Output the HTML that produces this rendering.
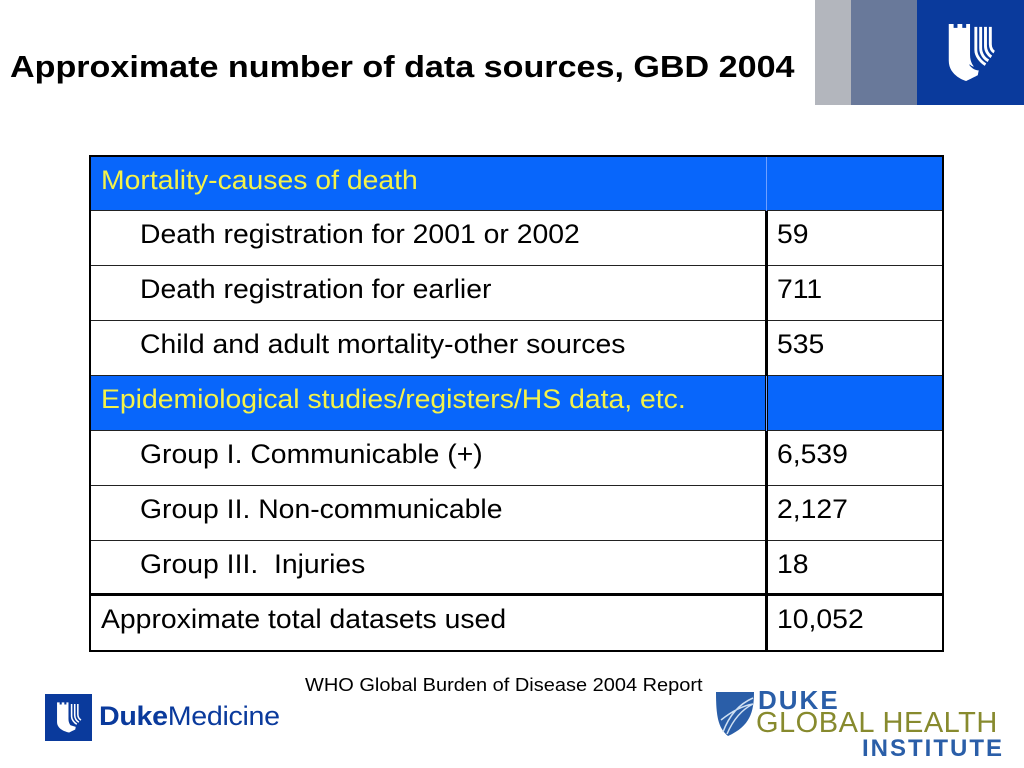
<!DOCTYPE html>
<html><head><meta charset="utf-8"><style>
body{margin:0;width:1024px;height:768px;background:#fff;position:relative;overflow:hidden;font-family:"Liberation Sans",Arial,sans-serif}
.a{position:absolute}
.row{position:absolute;left:91px;width:851px;height:55px;border-bottom:1px solid #222;box-sizing:border-box}
.row span{position:absolute;top:-4px;line-height:54px;font-size:26.5px;color:#000;white-space:nowrap;transform:scaleX(1.07);transform-origin:0 0}
.blue{background:#0866fb}
.blue span{color:#f4f24a}
</style></head><body>
<div class="a" style="left:10px;top:49px;font-size:31px;font-weight:bold;color:#000;white-space:nowrap;transform:scaleX(1.1);transform-origin:0 0">Approximate number of data sources, GBD 2004</div>
<div class="a" style="left:815px;top:0;width:36px;height:105px;background:#b3b6bd"></div>
<div class="a" style="left:851px;top:0;width:66px;height:105px;background:#69799a"></div>
<div class="a" style="left:917px;top:0;width:107px;height:105px;background:#0a3a9c"></div>
<svg class="a" style="left:946px;top:24px" width="50" height="58" viewBox="0 0 50 60"><path d="M2 0h5v4h4v-4h5v4h4v-4h4v32c0 8 4 12 4 12s-2 0-4-2l-1 0 0 0c0 0 4 6 10 6l-1 5c-6 3-12 6-12 6S2 54 2 38Z" fill="#fff"/><path d="M30 3v24c0 6 5 12 10 15M35 3v22c0 6 4 11 8 13M40 3v20c0 5 3 9 6 11M45 3v18c0 4 2 7 4 8" stroke="#fff" stroke-width="3" fill="none"/></svg>

<div class="a" style="left:89px;top:155px;width:855px;height:497px;border:2px solid #000;box-sizing:border-box"></div>
<div class="row blue" style="top:157px;height:54px"><span style="left:10px">Mortality-causes of death</span></div>
<div class="row" style="top:211px"><span style="left:49px">Death registration for 2001 or 2002</span><span style="left:686px">59</span></div>
<div class="row" style="top:266px"><span style="left:49px">Death registration for earlier</span><span style="left:686px">711</span></div>
<div class="row" style="top:321px"><span style="left:49px">Child and adult mortality-other sources</span><span style="left:686px">535</span></div>
<div class="row blue" style="top:376px"><span style="left:10px">Epidemiological studies/registers/HS data, etc.</span></div>
<div class="row" style="top:431px"><span style="left:49px">Group I. Communicable (+)</span><span style="left:686px">6,539</span></div>
<div class="row" style="top:486px"><span style="left:49px">Group II. Non-communicable</span><span style="left:686px">2,127</span></div>
<div class="row" style="top:541px;border-bottom:3px solid #000"><span style="left:49px">Group III.&nbsp; Injuries</span><span style="left:686px">18</span></div>
<div class="row" style="top:596px;border:none"><span style="left:10px">Approximate total datasets used</span><span style="left:686px">10,052</span></div>
<div class="a" style="left:765px;top:211px;width:3px;height:439px;background:#000"></div>
<div class="a" style="left:766px;top:157px;width:1px;height:54px;background:#6fa0ff"></div>
<div class="a" style="left:766px;top:376px;width:1px;height:55px;background:#6fa0ff"></div>

<div class="a" style="left:305px;top:675px;font-size:18px;color:#000;white-space:nowrap;transform:scaleX(1.11);transform-origin:0 0">WHO Global Burden of Disease 2004 Report</div>

<div class="a" style="left:45px;top:694px;width:47px;height:47px;background:#0a3a9c"></div>
<svg class="a" style="left:56px;top:702px" width="26" height="32" viewBox="0 0 50 60"><path d="M2 0h5v4h4v-4h5v4h4v-4h4v32c0 8 4 12 4 12l10 3-1 5c-6 3-12 6-12 6S2 54 2 38Z" fill="#fff"/><path d="M30 3v24c0 6 5 12 10 15M36 3v22c0 6 4 11 8 13M42 3v20c0 5 3 9 6 11" stroke="#fff" stroke-width="3" fill="none"/></svg>
<div class="a" style="left:99px;top:701px;font-size:27px;color:#0a3a9c;letter-spacing:-0.3px;white-space:nowrap;transform:scaleX(1.06);transform-origin:0 0"><b>Duke</b>Medicine</div>

<svg class="a" style="left:715px;top:690px" width="40" height="46" viewBox="0 0 40 46"><path d="M1 2h38c0 20-4 34-26 44C3 38 1 26 1 2Z" fill="#2a5ea8"/><path d="M8 42c6-16 16-28 30-34M12 44c6-14 14-24 26-30M6 30c10-8 20-14 32-16" stroke="#cfe0f2" stroke-width="1.5" fill="none"/></svg>
<div class="a" style="left:758px;top:685px;font-size:26px;font-weight:bold;color:#2a5ea8;letter-spacing:2px">DUKE</div>
<div class="a" style="left:756px;top:707px;font-size:29px;color:#878a2e;letter-spacing:0.5px;white-space:nowrap">GLOBAL HEALTH</div>
<div class="a" style="left:862px;top:735px;font-size:24px;font-weight:bold;color:#2a5ea8;letter-spacing:2px">INSTITUTE</div>
</body></html>
